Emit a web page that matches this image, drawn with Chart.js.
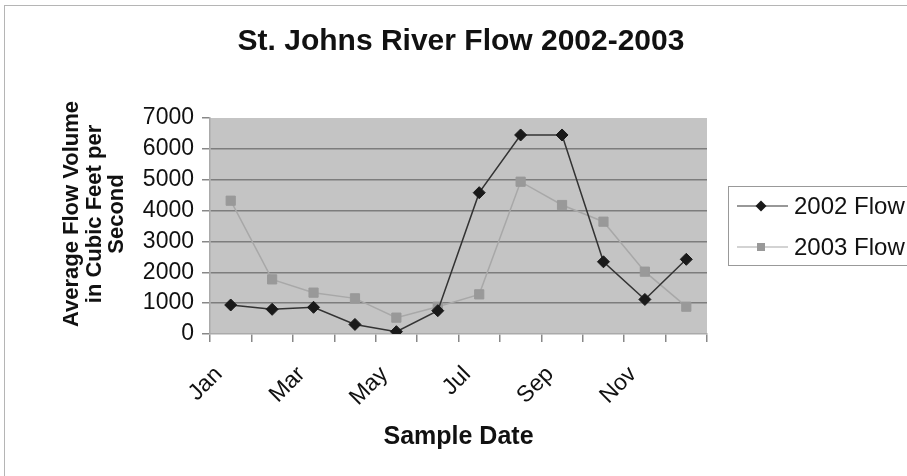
<!DOCTYPE html>
<html>
<head>
<meta charset="utf-8">
<title>St. Johns River Flow 2002-2003</title>
<script src="https://cdn.jsdelivr.net/npm/chart.js@4.4.1/dist/chart.umd.min.js"></script>
<style>
  html, body { margin: 0; padding: 0; background: #fff; overflow: hidden; }
  #wrap { width: 907px; height: 476px; overflow: hidden; position: relative; }
  canvas { display: block; }
</style>
</head>
<body>
<div id="wrap"><canvas id="flowChart" width="960" height="476"></canvas></div>
<script>
const months = ["Jan", "Feb", "Mar", "Apr", "May", "Jun", "Jul", "Aug", "Sep", "Oct", "Nov", "Dec"];
const flow2002 = [940, 800, 865, 310, 75, 755, 4580, 6450, 6450, 2340, 1120, 2420];
const flow2003 = [4320, 1770, 1340, 1155, 530, 885, 1285, 4935, 4180, 3640, 2020, 885];
const yTicks = [0, 1000, 2000, 3000, 4000, 5000, 6000, 7000];
const chartTitle = "St. Johns River Flow 2002-2003";
const yTitle = ["Average Flow Volume", "in Cubic Feet per", "Second"];

const FONT = "'Liberation Sans', Arial, Helvetica, sans-serif";

// grey plot area + thin outer frame, like the old spreadsheet chart
const backdrop = {
  id: "backdrop",
  beforeDraw(chart) {
    const { ctx, chartArea: a } = chart;
    ctx.save();
    ctx.fillStyle = "#fff";
    ctx.fillRect(0, 0, chart.width, chart.height);
    ctx.fillStyle = "#c4c4c4";
    ctx.fillRect(a.left, a.top, a.right - a.left, a.bottom - a.top);
    ctx.strokeStyle = "#b5b5b5";
    ctx.lineWidth = 1;
    ctx.strokeRect(4.5, 5.5, chart.width + 20, chart.height + 20);
    ctx.restore();
  },
};

// main title and the three-line y title (placed like the original, not on the plot centre)
const titles = {
  id: "titles",
  afterDraw(chart) {
    const { ctx } = chart;
    ctx.save();
    ctx.fillStyle = "#111";
    ctx.textAlign = "center";
    ctx.textBaseline = "middle";
    ctx.font = "bold 30px " + FONT;
    ctx.fillText(chartTitle, 461, 42);

    ctx.font = "bold 22px " + FONT;
    yTitle.forEach((line, i) => {
      ctx.save();
      ctx.translate(72 + i * 22.5, 214);
      ctx.rotate(-Math.PI / 2);
      ctx.fillText(line, 0, 0);
      ctx.restore();
    });
    ctx.restore();
  },
};

// legend box on the right: line sample with marker, then the label
const sideLegend = {
  id: "sideLegend",
  afterDraw(chart) {
    const { ctx } = chart;
    const boxX = 728, boxY = 186, rowGap = 41;
    ctx.save();
    ctx.strokeStyle = "#999";
    ctx.lineWidth = 1;
    ctx.strokeRect(boxX + 0.5, boxY + 0.5, 300, 79);
    chart.data.datasets.forEach((ds, i) => {
      const y = boxY + 20 + i * rowGap;
      ctx.strokeStyle = ds.borderColor;
      ctx.lineWidth = 1.2;
      ctx.beginPath();
      ctx.moveTo(737, y);
      ctx.lineTo(788, y);
      ctx.stroke();
      ctx.fillStyle = ds.pointBackgroundColor;
      ctx.beginPath();
      if (ds.pointStyle === "rectRot") {
        ctx.moveTo(761, y - 5.5);
        ctx.lineTo(766.5, y);
        ctx.lineTo(761, y + 5.5);
        ctx.lineTo(755.5, y);
        ctx.closePath();
      } else {
        ctx.rect(757, y - 4, 8, 8);
      }
      ctx.fill();
      ctx.fillStyle = "#111";
      ctx.font = "24px " + FONT;
      ctx.textBaseline = "middle";
      ctx.fillText(ds.label, 794, y + 1);
    });
    ctx.restore();
  },
};

new Chart(document.getElementById("flowChart"), {
  type: "line",
  data: {
    labels: months,
    datasets: [
      {
        label: "2002 Flow",
        data: flow2002,
        borderColor: "#333",
        borderWidth: 1.5,
        pointStyle: "rectRot",
        pointRadius: 6,
        pointBackgroundColor: "#1a1a1a",
        pointBorderColor: "#1a1a1a",
        pointBorderWidth: 1,
        tension: 0,
      },
      {
        label: "2003 Flow",
        data: flow2003,
        borderColor: "#a8a8a8",
        borderWidth: 1.5,
        pointStyle: "rect",
        pointRadius: 6.5,
        pointBackgroundColor: "#999",
        pointBorderColor: "#999",
        pointBorderWidth: 1,
        tension: 0,
      },
    ],
  },
  options: {
    responsive: false,
    animation: false,
    events: [],
    layout: {
      padding: { left: 0, right: 253, top: 118, bottom: 0 },
    },
    plugins: {
      legend: { display: false },
      tooltip: { enabled: false },
      title: { display: false },
    },
    scales: {
      x: {
        type: "category",
        offset: true,
        afterFit: (scale) => {
          scale.height = 142;
        },
        grid: {
          offset: true,
          drawOnChartArea: false,
          drawTicks: true,
          tickLength: 8,
          tickColor: "#888",
          lineWidth: 1.5,
        },
        border: { display: true, color: "#aaa", width: 1.5 },
        ticks: {
          autoSkip: false,
          maxRotation: 45,
          minRotation: 45,
          padding: 19,
          labelOffset: -12,
          color: "#111",
          font: { family: FONT, size: 23 },
          callback: function (value, index) {
            return index % 2 === 0 ? months[index] : "";
          },
        },
        title: {
          display: true,
          text: "Sample Date",
          color: "#111",
          font: { family: FONT, size: 25, weight: "bold", lineHeight: 1.2 },
          padding: { top: 0, bottom: 24 },
        },
      },
      y: {
        min: 0,
        max: 7000,
        afterFit: (scale) => {
          scale.width = 210;
        },
        afterBuildTicks: (scale) => {
          scale.ticks = yTicks.map((v) => ({ value: v }));
        },
        grid: {
          color: (c) =>
            c.tick && (c.tick.value === 0 || c.tick.value === 7000) ? "rgba(0,0,0,0)" : "#7d7d7d",
          lineWidth: 1.5,
          drawTicks: true,
          tickLength: 8,
          tickColor: "#888",
        },
        border: { display: true, color: "#aaa", width: 1.5 },
        ticks: {
          padding: 8,
          color: "#111",
          font: { family: FONT, size: 23 },
          callback: (value) => String(value),
        },
        title: { display: false },
      },
    },
  },
  plugins: [backdrop, titles, sideLegend],
});
</script>
</body>
</html>
